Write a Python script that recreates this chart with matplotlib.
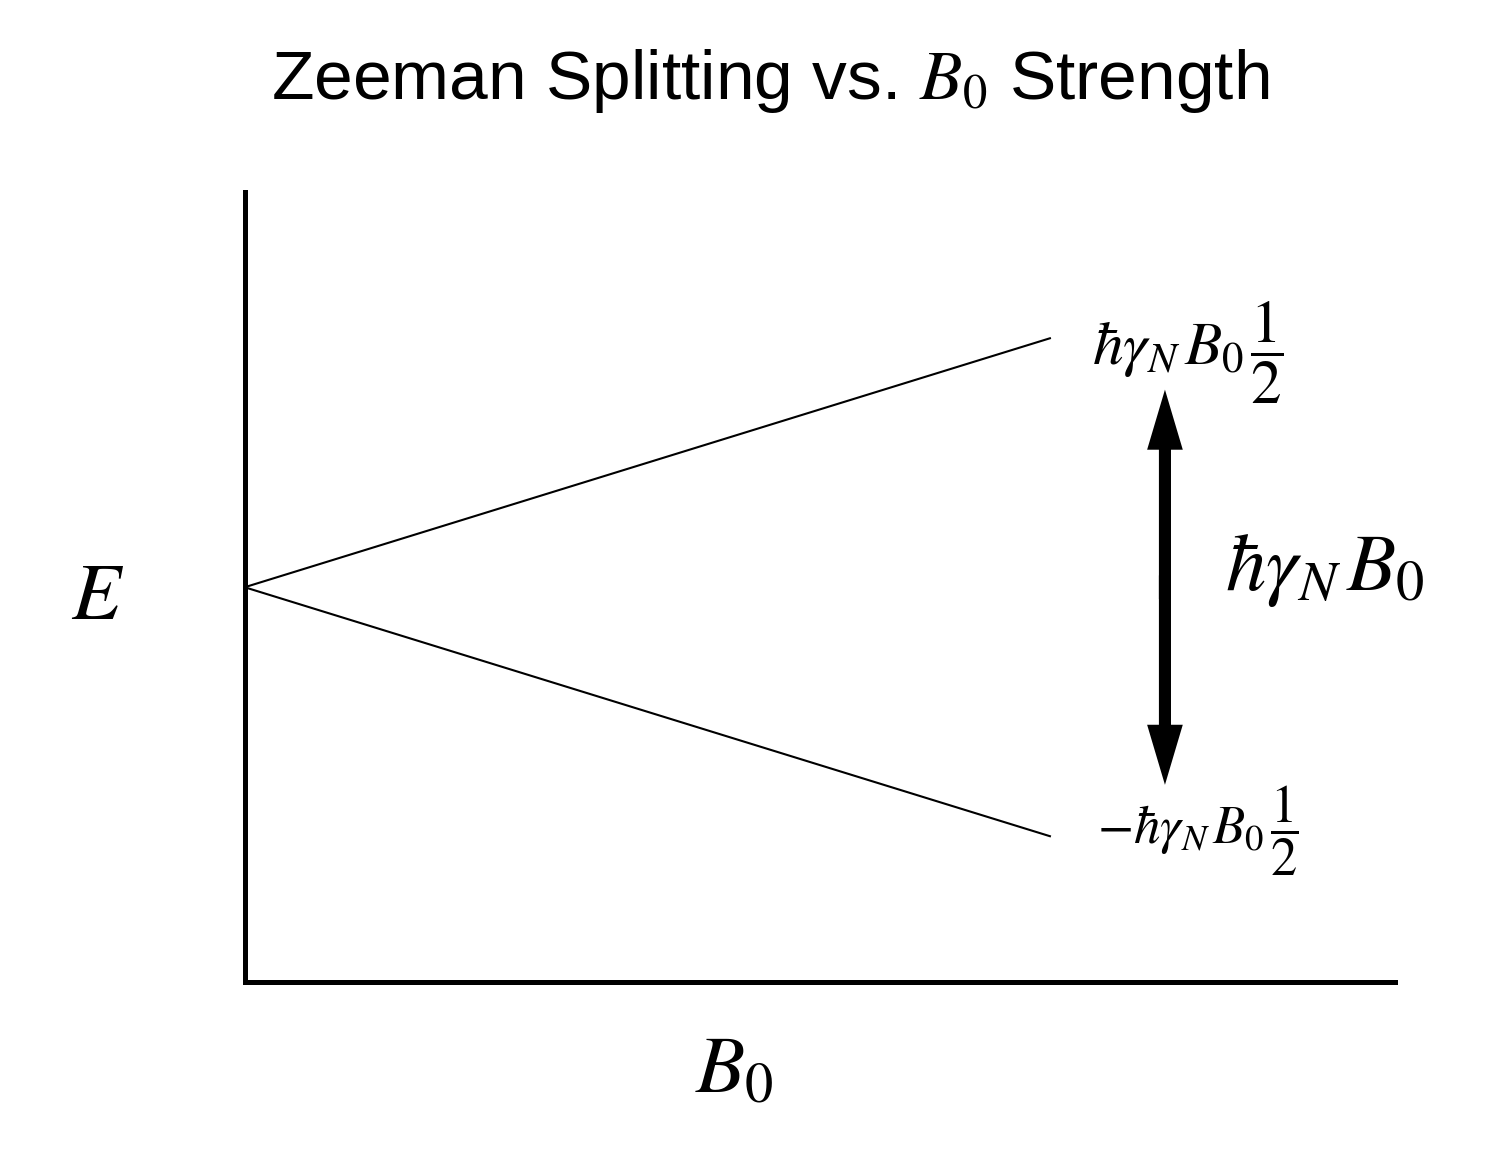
import matplotlib
matplotlib.use("Agg")
import matplotlib.pyplot as plt

plt.rcParams['mathtext.fontset'] = 'stix'
plt.rcParams['font.family'] = ['Liberation Sans', 'DejaVu Sans']

# field strength and the two energy levels
b0 = [0.0, 0.7]
e_up = [0.0, 0.63]
e_down = [0.0, -0.63]

# splitting arrow
arrow_x = 0.8
arrow_lo, arrow_hi = -0.5, 0.5

title = r'Zeeman Splitting vs. $B_0$ Strength'
label_up = r'$\hbar\gamma_{N\,}B_{0\,}\dfrac{1}{2}$'
label_down = r'$-\hbar\gamma_{N\,}B_{0\,}\dfrac{1}{2}$'
label_gap = r'$\hbar\gamma_{N\,}B_0$'

fig = plt.figure(figsize=(7.46, 5.82), dpi=200)
ax = fig.add_axes([0.164, 0.156, 0.771, 0.679])

ax.plot(b0, e_up, color='black', lw=0.75)
ax.plot(b0, e_down, color='black', lw=0.75)

# double headed arrow: two halves from the middle, overlapping a little
mid = (arrow_lo + arrow_hi) / 2
for start, end in ((mid - 0.03, arrow_hi), (mid + 0.03, arrow_lo)):
    ax.arrow(arrow_x, start, 0, end - start, width=0.0105, head_width=0.031,
             head_length=0.152, length_includes_head=True,
             color='black', lw=0)

ax.text(0.737, 0.595, label_up, fontsize=22, ha='left', va='center')
ax.text(0.741, -0.615, label_down, fontsize=19, ha='left', va='center')
ax.text(0.852, 0.043, label_gap, fontsize=29, ha='left', va='center')

ax.set_xlim(0, 1)
ax.set_ylim(-1, 1)
ax.spines['top'].set_visible(False)
ax.spines['right'].set_visible(False)
ax.spines['left'].set_linewidth(1.8)
ax.spines['bottom'].set_linewidth(1.8)
ax.set_xticks([])
ax.set_yticks([])

ax.text(-0.128, 0.487, r'$E$', transform=ax.transAxes, fontsize=29,
        ha='center', va='center')
ax.text(0.426, -0.113, r'$B_0$', transform=ax.transAxes, fontsize=29,
        ha='center', va='center')

fig.text(0.516, 0.93, title, fontsize=25, ha='center', va='center')

fig.savefig('out.png', dpi=200)
